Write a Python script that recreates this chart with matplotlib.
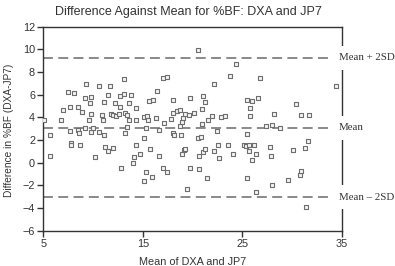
import matplotlib
matplotlib.use("Agg")
import matplotlib.pyplot as plt

# Data (mean of DXA and JP7, difference in %BF)
mean_vals = [
    5.05, 5.65, 5.62, 6.79, 6.99, 7.46, 7.66, 7.66, 7.73, 7.73, 8.10, 8.50, 8.44, 8.60,
    8.64, 8.90, 9.14, 9.17, 9.24, 9.57, 9.64, 9.74, 9.80, 9.82, 10.0, 10.18, 10.55,
    10.58, 10.91, 11.01, 11.11, 11.11, 11.2, 11.45, 11.45, 11.68, 11.82, 11.95, 12.02,
    12.22, 12.25, 12.59, 12.66, 12.72, 12.82, 13.06, 13.09, 13.22, 13.24, 13.39, 13.42,
    13.56, 13.62, 13.79, 13.96, 14.1, 14.27, 14.30, 14.3, 14.67,
    15.1, 15.4, 15.53, 15.13, 15.27, 15.3, 15.13, 15.57, 15.73, 15.94, 16.0, 16.34,
    16.38, 16.6, 16.61, 16.98, 17.0, 17.08, 17.44, 17.44, 17.81, 18.02, 18.02, 18.05,
    18.15, 18.45, 18.72, 18.75, 18.82, 18.92, 18.92, 18.99, 19.09, 19.25, 19.25, 19.45,
    19.62, 19.75, 19.79, 20.16, 20.5, 20.56, 20.8, 20.63, 20.63, 20.93, 20.93, 21.03,
    21.1, 21.26, 21.3, 21.43, 21.53, 22.0, 22.14, 22.17, 22.44, 22.57, 22.67, 22.91,
    23.24, 23.54, 23.81, 24.04, 24.35, 25.18,
    25.48, 25.52, 25.38, 25.68, 25.72, 25.78, 25.82, 25.52, 26.02, 26.02, 26.18, 26.36,
    26.43, 26.63, 26.83, 27.39, 27.79, 27.89, 27.96, 28.0, 28.16, 28.77, 29.64, 30.14,
    30.41, 30.78, 30.88, 30.91, 31.31, 31.45, 31.58, 31.68, 34.47,
]
diff_vals = [
    3.72, 2.40, 0.60, 3.72, 4.65, 6.27, 4.95, 2.80, 1.69, 1.51, 6.15, 4.89, 2.85, 2.60,
    1.51, 4.48, 5.71, 3.01, 6.94, 3.74, 5.24, 4.27, 5.77, 2.72, 3.01, 0.46, 2.72,
    6.80, 4.24, 3.80, 5.33, 2.48, 1.39, 1.01, 6.00, 6.80, 4.33, 1.25, 4.18,
    5.24, 4.10, 4.33, 4.89, 5.89, -0.48, 7.36, 6.09, 4.42, 2.58, 4.18, 3.16,
    3.80, 5.30, 6.00, -0.07, 0.46, 4.80, 3.72, 1.51, 0.72,
    4.00, 4.10, 3.80, 2.16, 3.01, -0.81, -1.66, 5.45, 1.19, -1.25, 5.51, 3.98,
    6.30, 2.86, 0.60, -0.48, 7.47, 3.51, 7.53, -0.81, 3.86, 5.51, 4.36, 2.57,
    2.42, 4.56, 4.65, 3.19, 2.42, 3.59, 0.75, 3.95, 1.10, 1.16, 4.27, -2.31,
    4.16, -0.51, 5.74, 4.36, 9.91, 2.13, 2.22, 0.60, -0.54, 4.71, 3.42, 5.92,
    0.95, 1.19, 5.33, -1.34, 3.80, 4.12, 1.04, 6.94, 2.75, 1.51, 0.40, 4.04,
    4.12, 1.51, 7.65, 0.75, 8.71, 1.51,
    5.51, 2.51, 1.48, 1.54, 1.04, 4.83, 4.07, -1.34, 5.45, 0.19, 1.54, 0.78,
    -2.63, 5.68, 7.50, 3.27, 1.39, 0.60, 3.36, -1.95, 4.27, 3.07, -1.54, 1.13,
    5.15, -1.10, 4.16, -0.78, 1.25, -3.92, 1.87, 4.16, 6.77,
]

ref_values = [9.25, 3.08, -3.05]
ref_labels = ["Mean + 2SD", "Mean", "Mean \u2013 2SD"]

x_ticks = [5, 15, 25, 35]
y_ticks = [-6, -4, -2, 0, 2, 4, 6, 8, 10, 12]

plt.rcParams['font.family'] = ['Liberation Sans', 'DejaVu Sans']

fig = plt.figure(figsize=(3.95, 2.66), dpi=100)
ax = fig.add_axes([0.110, 0.133, 0.755, 0.767])

textc = '#333333'
ax.scatter(mean_vals, diff_vals, marker='s', s=9, facecolors='#f4f4f4',
           edgecolors='#6e6e6e', linewidths=0.8, zorder=3)

for v in ref_values:
    ax.axhline(v, color='#6a6a6a', lw=1.1, dashes=(6.5, 3.5), zorder=2)

for v, lab in zip(ref_values, ref_labels):
    ax.text(34.7, v, lab, ha='left', va='center', fontsize=7.8,
            family=['Liberation Serif', 'DejaVu Serif'], color=textc,
            clip_on=False, zorder=5,
            bbox=dict(boxstyle='square,pad=0.7', facecolor='white',
                      edgecolor='none'))

ax.set_xlim(5, 35)
ax.set_ylim(-6, 12)
ax.set_xticks(x_ticks)
ax.set_yticks(y_ticks)

for s in ax.spines.values():
    s.set_color('#333333')
    s.set_linewidth(1.0)

ax.tick_params(direction='out', length=4, width=1.0, colors='#333333',
               labelsize=7.8, labelcolor=textc, pad=2)

fig.text(0.478, 0.955, "Difference Against Mean for %BF: DXA and JP7",
         fontsize=9.0, color=textc, ha='center', va='center')
ax.set_xlabel("Mean of DXA and JP7", fontsize=7.8, color=textc, labelpad=6)
ax.set_ylabel("Difference in %BF (DXA-JP7)", fontsize=7.3, color=textc)
ax.yaxis.label.set_va('center')
ax.yaxis.set_label_coords(-0.117, 0.49)

fig.savefig("out.png", dpi=100)
